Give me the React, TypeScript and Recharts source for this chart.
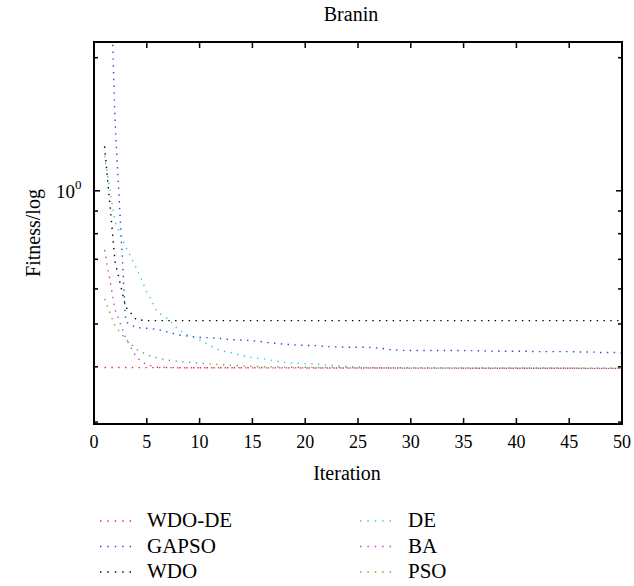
import React from 'react';
import { LineChart, Line, XAxis, YAxis, Legend, Label } from 'recharts';

const iterations = [
  1, 2, 3, 4, 5, 6, 7, 8, 9, 10, 11, 12, 13, 14, 15, 16, 17, 18, 19, 20, 21, 22, 23, 24, 25,
  26, 27, 28, 29, 30, 31, 32, 33, 34, 35, 36, 37, 38, 39, 40, 41, 42, 43, 44, 45, 46, 47, 48, 49, 50,
];

const wdoDe = [
  0.3985, 0.3985, 0.3985, 0.3984, 0.3984, 0.3983, 0.3983, 0.3982, 0.3982, 0.3981,
  0.3981, 0.398, 0.398, 0.398, 0.3979, 0.3979, 0.3978, 0.3978, 0.3977, 0.3977,
  0.3976, 0.3976, 0.3976, 0.3975, 0.3975, 0.3975, 0.3974, 0.3974, 0.3974, 0.3973,
  0.3973, 0.3973, 0.3972, 0.3972, 0.3972, 0.3971, 0.3971, 0.3971, 0.397, 0.397,
  0.397, 0.397, 0.3969, 0.3969, 0.3969, 0.3969, 0.3968, 0.3968, 0.3968, 0.3968,
];

const gapso = [
  8.5, 1.425, 0.5054, 0.4906, 0.4888, 0.486, 0.4797, 0.4722, 0.4693, 0.4661,
  0.4655, 0.4635, 0.4606, 0.4599, 0.4582, 0.4553, 0.4522, 0.4499, 0.4483, 0.4471,
  0.4466, 0.4446, 0.4437, 0.443, 0.443, 0.4428, 0.441, 0.4377, 0.4359, 0.4355,
  0.4355, 0.4354, 0.4354, 0.4353, 0.4353, 0.4352, 0.4345, 0.4337, 0.4337, 0.4336,
  0.4336, 0.4328, 0.4328, 0.4328, 0.4328, 0.4322, 0.4322, 0.431, 0.431, 0.4308,
];

const wdo = [
  1.26, 0.691, 0.5464, 0.5115, 0.5087, 0.5087, 0.5087, 0.5087, 0.5087, 0.5087,
  0.5087, 0.5087, 0.5087, 0.5087, 0.5087, 0.5087, 0.5087, 0.5087, 0.5087, 0.5087,
  0.5087, 0.5087, 0.5087, 0.5087, 0.5087, 0.5087, 0.5087, 0.5087, 0.5087, 0.5087,
  0.5087, 0.5087, 0.5087, 0.5087, 0.5087, 0.5087, 0.5087, 0.5087, 0.5087, 0.5087,
  0.5087, 0.5087, 0.5087, 0.5087, 0.5087, 0.5087, 0.5087, 0.5087, 0.5087, 0.5087,
];

const de = [
  1.2, 0.851, 0.747, 0.67, 0.591, 0.532, 0.5135, 0.485, 0.4697, 0.46,
  0.446, 0.435, 0.4307, 0.4238, 0.42, 0.4172, 0.4131, 0.4095, 0.4076, 0.4067,
  0.4065, 0.404, 0.4018, 0.401, 0.3997, 0.3986, 0.398, 0.3977, 0.3977, 0.3976,
  0.3976, 0.3975, 0.3975, 0.3974, 0.3974, 0.3973, 0.3973, 0.3973, 0.3972, 0.3972,
  0.3972, 0.3971, 0.3971, 0.3971, 0.397, 0.397, 0.397, 0.397, 0.397, 0.397,
];

const ba = [
  0.735, 0.538, 0.465, 0.4204, 0.404, 0.3991, 0.3985, 0.398, 0.398, 0.398,
  0.398, 0.3979, 0.3979, 0.3979, 0.3978, 0.3978, 0.3977, 0.3977, 0.3977, 0.3976,
  0.3976, 0.3976, 0.3975, 0.3975, 0.3975, 0.3974, 0.3974, 0.3974, 0.3973, 0.3973,
  0.3973, 0.3972, 0.3972, 0.3972, 0.3971, 0.3971, 0.3971, 0.397, 0.397, 0.397,
  0.397, 0.3969, 0.3969, 0.3969, 0.3969, 0.3968, 0.3968, 0.3968, 0.3968, 0.3968,
];

const pso = [
  0.5697, 0.494, 0.462, 0.4383, 0.4256, 0.419, 0.414, 0.4114, 0.4093, 0.4076,
  0.4061, 0.4045, 0.4029, 0.4018, 0.4008, 0.4003, 0.3997, 0.3993, 0.3991, 0.399,
  0.3987, 0.3986, 0.3985, 0.3984, 0.3982, 0.3982, 0.3981, 0.3981, 0.398, 0.398,
  0.3979, 0.3979, 0.3978, 0.3978, 0.3977, 0.3977, 0.3976, 0.3976, 0.3975, 0.3975,
  0.3975, 0.3974, 0.3974, 0.3974, 0.3973, 0.3973, 0.3973, 0.3972, 0.3972, 0.3972,
];

const xTicks = [0, 5, 10, 15, 20, 25, 30, 35, 40, 45, 50];
const yTicks = [0.3, 0.4, 0.5, 0.6, 0.7, 0.8, 0.9, 1, 2];
const yDomain = [0.297, 2.17];
const xDomain = [0, 50];

const title = 'Branin';
const xLabel = 'Iteration';
const yLabel = 'Fitness/log';

const seriesNames = ['WDO-DE', 'GAPSO', 'WDO', 'DE', 'BA', 'PSO'];
const seriesKeys = ['wdoDe', 'gapso', 'wdo', 'de', 'ba', 'pso'];
const seriesColors = ['#ff2020', '#2a45d0', '#000000', '#3cc8d8', '#cc3cc0', '#4cbb2c'];

const data = iterations.map((it, i) => ({
  iter: it,
  wdoDe: wdoDe[i],
  gapso: gapso[i],
  wdo: wdo[i],
  de: de[i],
  ba: ba[i],
  pso: pso[i],
}));

// layout constants
const CHART_W = 634;
const CHART_H = 586;
const TOP_M = 42;
const RIGHT_M = 12;
const LEFT_W = 94;
const BOTTOM_H = 162;
const PLOT_W = CHART_W - LEFT_W - RIGHT_M;
const PLOT_H = CHART_H - TOP_M - BOTTOM_H;
const TW = 1.5; // tick thickness
const FW = 2; // frame thickness

const FONT = "'Liberation Serif', 'DejaVu Serif', serif";
const TXT = { fontFamily: FONT };
const DASH = '1.4 5.4';

const BottomTick = (props: any) => {
  const { x, y, payload } = props;
  const topY = y - PLOT_H;
  return (
    <g>
      <rect x={x - TW / 2} y={y - 6} width={TW} height={6} fill="#000" stroke="none" />
      <rect x={x - TW / 2} y={topY} width={TW} height={6} fill="#000" stroke="none" />
      <text x={x} y={y + 24} textAnchor="middle" fontSize={18} style={TXT} fill="#000" stroke="none">
        {payload.value}
      </text>
    </g>
  );
};

const LeftTick = (props: any) => {
  const { x, y, payload } = props;
  const major = payload.value === 1;
  const len = major ? 6 : 4;
  const rightX = x + PLOT_W;
  return (
    <g>
      <rect x={x} y={y - TW / 2} width={len} height={TW} fill="#000" stroke="none" />
      <rect x={rightX - len} y={y - TW / 2} width={len} height={TW} fill="#000" stroke="none" />
      {major && (
        <text x={x - 19} y={y + 7} textAnchor="end" fontSize={19} style={TXT} fill="#000" stroke="none">
          10
        </text>
      )}
      {major && (
        <text x={x - 19} y={y - 2} textAnchor="start" fontSize={13} style={TXT} fill="#000" stroke="none">
          0
        </text>
      )}
    </g>
  );
};

const renderLegend = (props: any) => {
  const payload = props.payload || [];
  return (
    <svg width={634} height={86} style={{ display: 'block' }}>
      {seriesNames.map((name, idx) => {
        const entry = payload.find((p: any) => p.value === name);
        const color = entry ? entry.color : seriesColors[idx];
        const col = idx < 3 ? 0 : 1;
        const row = idx % 3;
        const sx = col ? 360 : 100;
        const tx = col ? 408 : 147;
        const by = 27 + row * 25.5;
        return (
          <g key={name}>
            <line x1={sx} x2={sx + 36} y1={by - 6} y2={by - 6} stroke={color} strokeWidth={1.4} strokeDasharray="1.4 6" />
            <text x={tx} y={by} fontSize={21} style={TXT} fill="#000">
              {name}
            </text>
          </g>
        );
      })}
    </svg>
  );
};

export default function App() {
  return (
    <div style={{ position: 'absolute', left: 0, top: 0, width: CHART_W, height: CHART_H, background: '#fff' }}>
      <LineChart
        width={CHART_W}
        height={CHART_H}
        data={data}
        margin={{ top: TOP_M, right: RIGHT_M, left: 0, bottom: 0 }}
        style={{ fontFamily: FONT }}
      >
        <XAxis
          dataKey="iter"
          type="number"
          domain={xDomain}
          ticks={xTicks}
          interval={0}
          height={BOTTOM_H}
          tickSize={0}
          tickMargin={0}
          tickLine={false}
          axisLine={{ stroke: '#000', strokeWidth: FW }}
          tick={<BottomTick />}
          allowDataOverflow
        >
          <Label
            content={(p: any) => {
              const vb = p.viewBox || { x: LEFT_W, y: TOP_M + PLOT_H, width: PLOT_W };
              const topY = vb.y - PLOT_H;
              return (
                <g>
                  <text x={vb.x + vb.width / 2 - 11} y={vb.y + 56} textAnchor="middle" fontSize={20} style={TXT} fill="#000" stroke="none">
                    {xLabel}
                  </text>
                  <text x={vb.x + vb.width / 2 - 7} y={topY - 21} textAnchor="middle" fontSize={20} style={TXT} fill="#000" stroke="none">
                    {title}
                  </text>
                </g>
              );
            }}
          />
        </XAxis>
        <YAxis
          scale="log"
          type="number"
          domain={yDomain}
          ticks={yTicks}
          interval={0}
          width={LEFT_W}
          tickSize={0}
          tickMargin={0}
          tickLine={false}
          axisLine={{ stroke: '#000', strokeWidth: FW }}
          tick={<LeftTick />}
          allowDataOverflow
        >
          <Label
            content={(p: any) => {
              const vb = p.viewBox || { x: 0, y: TOP_M, width: LEFT_W, height: PLOT_H };
              const cx = 33;
              const cy = vb.y + vb.height / 2;
              return (
                <text x={cx} y={cy} transform={`rotate(-90 ${cx} ${cy})`} textAnchor="middle" dominantBaseline="central" fontSize={20} style={TXT} fill="#000" stroke="none">
                  {yLabel}
                </text>
              );
            }}
          />
        </YAxis>
        {seriesKeys.map((k, i) => (
          <Line
            key={k}
            type="linear"
            dataKey={k}
            name={seriesNames[i]}
            stroke={seriesColors[i]}
            strokeWidth={1.4}
            strokeDasharray={DASH}
            dot={false}
            activeDot={false}
            isAnimationActive={false}
          />
        ))}
        <Legend
          layout="vertical"
          align="center"
          verticalAlign="middle"
          wrapperStyle={{ top: 500, left: 0, width: CHART_W, height: 86 }}
          content={renderLegend}
        />
      </LineChart>
      <div
        style={{
          position: 'absolute',
          left: LEFT_W - FW / 2,
          top: TOP_M - FW / 2,
          width: PLOT_W + FW,
          height: PLOT_H + FW,
          border: `${FW}px solid #000`,
          boxSizing: 'border-box',
          pointerEvents: 'none',
          zIndex: 5,
        }}
      />
    </div>
  );
}
